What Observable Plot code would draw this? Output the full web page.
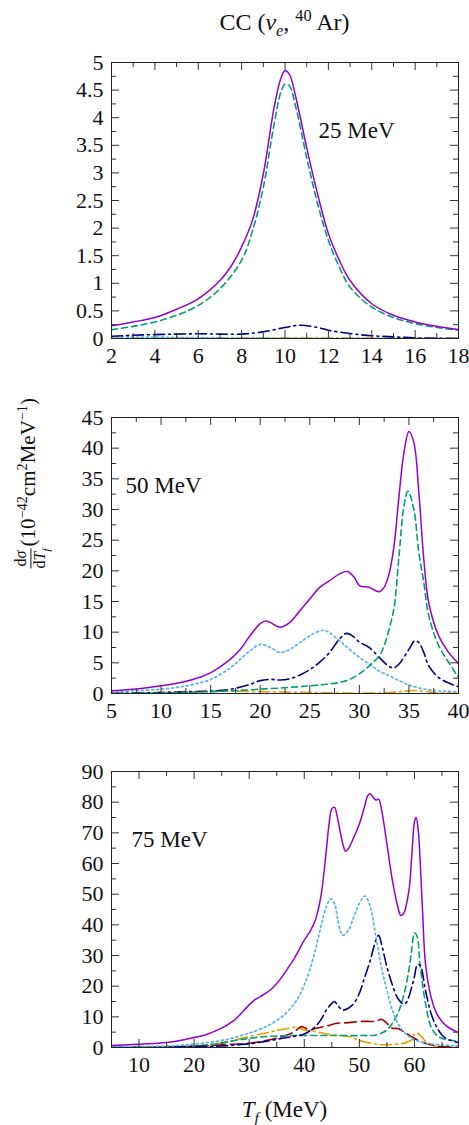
<!DOCTYPE html>
<html>
<head>
<meta charset="utf-8">
<script src="https://cdn.jsdelivr.net/npm/d3@7"></script>
<script src="https://cdn.jsdelivr.net/npm/@observablehq/plot@0.6"></script>
<style>
  body { margin: 0; background: #fff; }
  #fig { position: relative; width: 469px; height: 1125px; font-family: "Liberation Serif", "Times New Roman", serif; color: #111; overflow: hidden; }
  #fig svg { position: absolute; left: 0; }
  .title, .xlab { position: absolute; left: 111px; width: 347px; text-align: center; line-height: 1; white-space: nowrap; }
  .title { top: 10px; font-size: 24px; }
  .xlab { top: 1098px; font-size: 23px; }
  /* rotated y label: its right-top corner is pinned, the text reads upwards */
  .ylab { position: absolute; right: 457px; top: 398px; font-size: 21px; white-space: nowrap; line-height: 1;
          transform-origin: right top; transform: rotate(-90deg); }
  sup, sub { font-size: 0.68em; line-height: 0; }
  .frac { display: inline-flex; flex-direction: column; vertical-align: middle; font-size: 16px; text-align: center; line-height: 1.1; margin-right: 2px; }
  .frac .num { border-bottom: 1px solid #111; padding: 0 1px; }
</style>
</head>
<body>
<div id="fig">
  <div class="title">CC (<i>ν<sub>e</sub></i>, <sup>40</sup> Ar)</div>
  <div class="ylab"><span class="frac"><span class="num">d<i>σ</i></span><span class="den">d<i>T<sub>f</sub></i></span></span>(10<sup>−42</sup>cm<sup>2</sup>MeV<sup>−1</sup>)</div>
  <div class="xlab"><i>T<sub>f</sub></i> (MeV)</div>
</div>
<script>
// Differential cross sections dσ/dT_f (10^-42 cm^2 MeV^-1) versus T_f (MeV)
// for three neutrino energies: the total and its separate contributions c1..c5.

// ---- E_nu = 25 MeV ----
const total_25 = [[2,0.23],[3,0.3],[4,0.38],[5,0.53],[6,0.72],[7,1.05],[7.5,1.3],[8,1.66],[8.5,2.14],[9,2.98],[9.5,4.19],[9.8,4.7],[10,4.85],[10.2,4.79],[10.5,4.37],[11,3.46],[11.5,2.62],[12,1.9],[12.5,1.42],[13,1.05],[14,0.63],[15,0.42],[16,0.3],[17,0.22],[18,0.16]];
const c1_25 = [[2,0.16],[3,0.22],[4,0.3],[5,0.42],[6,0.6],[7,0.9],[8,1.42],[8.5,1.95],[9,2.74],[9.5,3.89],[9.8,4.45],[10,4.61],[10.2,4.58],[10.5,4.19],[11,3.28],[11.5,2.45],[12,1.78],[12.5,1.3],[13,0.93],[14,0.57],[15,0.38],[16,0.27],[17,0.2],[18,0.15]];
const c2_25 = [[2,0.04],[3,0.06],[4,0.07],[5,0.08],[6,0.085],[7,0.08],[8,0.08],[9,0.12],[10,0.2],[10.7,0.24],[11.5,0.2],[12,0.15],[13,0.09],[14,0.05],[15,0.03],[16,0.01],[17,0.005],[18,0]];
const c3_25 = [[2,0.03],[4,0.025],[6,0.015],[8,0.008],[10,0.004],[12,0.002],[18,0]];
const c4_25 = [[2,0.01],[6,0.01],[10,0.008],[14,0.006],[18,0.005]];

// ---- E_nu = 50 MeV ----
const total_50 = [[5,0.43],[8,0.8],[10,1.25],[12,1.8],[14,2.7],[15,3.4],[16,4.4],[17,5.6],[18,7.2],[19,9.5],[20,11.4],[20.5,11.8],[21,11.6],[22,10.8],[23,11.6],[24,13.5],[25,15.4],[26,17.3],[27,18.4],[28,19.5],[28.8,19.9],[29.5,18.9],[30,17.6],[31,17.3],[32,16.6],[32.5,17.3],[33,19.5],[33.5,24.1],[34,32.2],[34.5,39.3],[35,42.7],[35.5,40.9],[36,32.8],[36.5,21.9],[37,14.8],[38,9.4],[39,6.7],[40,4.9]];
const c1_50 = [[5,0],[10,0.1],[15,0.3],[20,0.7],[25,1.25],[28,1.8],[29,2.3],[30,3.2],[31,4.5],[32,6.1],[32.5,7.8],[33,10.5],[33.5,14],[34,22.4],[34.5,30.6],[34.9,33],[35.5,30],[36,23],[36.5,18.1],[37,12.7],[38,7.8],[39,5.1],[40,2.6]];
const c2_50 = [[5,0],[10,0.16],[15,0.4],[17,0.7],[19,1.5],[20,2.1],[21,2.3],[22,2.2],[23,2.4],[24,3.0],[25,3.9],[26,5.1],[27,6.7],[28,8.9],[28.7,9.8],[29.3,9.4],[30,8.4],[31,7.5],[32,5.9],[33,4.4],[33.5,4.2],[34,4.8],[35,7.2],[35.6,8.6],[36,8.3],[36.5,6.7],[37,4.5],[38,2.6],[39,1.7],[40,1.1]];
const c3_50 = [[5,0.3],[10,0.7],[13,1.4],[15,2.3],[17,4.2],[18,5.6],[19,7.0],[20,8.0],[21,7.5],[22,6.7],[23,7.2],[24,8.3],[25,9.4],[26,10.2],[26.5,10.3],[27,9.9],[28,8.6],[29,7.2],[30,5.9],[31,4.8],[32,3.7],[33,2.9],[34,2.1],[35,1.4],[36,0.9],[37,0.6],[38,0.4],[40,0.3]];
const c4_50 = [[5,0],[10,0.2],[15,0.4],[20,0.3],[25,0.15],[30,0.05],[33,0.15],[34,0.27],[35.5,0.5],[37,0.27],[38,0.1],[40,0.05]];

// ---- E_nu = 75 MeV ----
const total_75 = [[5,0.65],[10,1.1],[15,1.6],[20,3.25],[22,4.1],[25,6.3],[27,8.5],[28,10.1],[30,13.9],[31,15.5],[32,16.6],[33,17.7],[34,19.0],[35,20.9],[36,23.1],[37,25.8],[38,28.5],[39,31.7],[40,35],[41,37.7],[42,41.5],[43,49.1],[44,64.3],[44.5,72.9],[45,77.8],[45.5,78.3],[46,75.1],[47,66.4],[47.5,64],[48,64.8],[49,68.6],[50,72.9],[51,78.9],[51.5,82.1],[52,82.7],[52.5,81.6],[53,80.7],[53.5,81],[54,77.8],[55,66.4],[56,54.5],[57,45.8],[57.5,43.1],[58,43.6],[59,51.2],[59.5,62.1],[60,73.5],[60.3,75.1],[60.7,70.7],[61,62.1],[61.5,43.6],[62,27.4],[63,16.6],[64,11.2],[65,8.5],[66,6.8],[67,5.7],[68,4.9]];
const c1_75 = [[5,0],[20,0.5],[25,1.4],[28,2.5],[30,3.0],[33,3.6],[36,3.8],[38,3.9],[40,3.9],[45,3.9],[50,3.9],[53,4.1],[55,5.7],[56,7.9],[57,11.2],[58,16.6],[59,25.3],[59.5,31.7],[60,37.4],[60.5,36.1],[61,27.4],[62,14.4],[63,6.8],[64,4.1],[65,3.0],[68,2.0]];
const c2_75 = [[5,0],[20,0.3],[25,0.5],[28,0.9],[30,1.2],[33,2.0],[36,3.0],[38,3.6],[40,4.4],[42,6.8],[43,9.0],[44,12.2],[45,14.4],[45.5,15.0],[46,13.9],[47,12.2],[48,12.8],[49,14.4],[50,17.7],[51,23.1],[52,28.5],[53,35.0],[53.5,36.6],[54,33.9],[55,26.3],[56,20.4],[57,16.0],[58,14.2],[58.5,14.6],[59,16.6],[60,23.1],[60.5,26.9],[61,26.9],[62,18.7],[63,11.2],[64,6.8],[65,4.1],[66,2.7],[68,1.6]];
const c3_75 = [[5,0.3],[15,0.5],[20,1.1],[25,2.3],[28,3.6],[30,4.7],[32,6.0],[34,7.7],[36,10.1],[38,13.9],[39,16.6],[40,20.4],[41,25.3],[42,31.7],[43,39.3],[44,45.8],[44.8,48.5],[45.5,46.9],[46,42.6],[46.5,38.2],[47,36.6],[48,38.2],[49,42.6],[50,46.9],[51,49.4],[52,45.8],[53,36.1],[54,26.3],[55,18.7],[56,12.2],[57,7.9],[58,5.2],[59,3.6],[60,2.5],[62,1.4],[65,0.9],[68,0.5]];
const c4_75 = [[5,0],[20,0.5],[25,1.6],[28,2.7],[30,3.6],[33,4.7],[35,5.6],[37,6.2],[38,6.6],[39,6.3],[40,5.7],[42,5.2],[45,4.1],[48,3.6],[50,2.3],[52,1.4],[54,0.9],[56,1.0],[58,1.4],[59.5,2.5],[60,4.5],[60.5,4.7],[61,4.1],[62,2.0],[63,0.9],[64,0.3],[68,0]];
const c5_75 = [[5,0],[20,0.3],[25,0.9],[30,1.4],[33,2.3],[36,3.6],[38,4.9],[39,6.3],[39.5,6.8],[40,6.5],[41,5.7],[42,6.2],[44,7.0],[46,7.9],[48,8.1],[50,8.5],[52,8.5],[53,8.5],[54,9.2],[55,7.9],[56,6.3],[57,6.2],[58,5.2],[59,4.1],[60,3.0],[61,2.0],[62,1.4],[63,0.9],[65,0.3],[68,0.1]];

// Line styles of the curves
const styles = {
  total: {stroke: "#9400d3", dash: null, width: 1.5},
  c1: {stroke: "#009e73", dash: "6,4", width: 1.6},
  c2: {stroke: "#00008b", dash: "11,4,2,4", width: 1.6},
  c3: {stroke: "#56b4e9", dash: "2,3", width: 1.7},
  c4: {stroke: "#e69f00", dash: "11,4,2,4", width: 1.6},
  c5: {stroke: "#a00000", dash: "12,5", width: 1.6}
};

const FW = 347, FH = 276;           // frame size in px
const MAJOR = 8, MINOR = 5;         // inward tick lengths
const TICK = "#333";

function steps(lo, hi, step) {
  const out = [];
  for (let v = lo; v <= hi + 1e-9; v += step) out.push(+v.toFixed(6));
  return out;
}

function panel({curves, xDomain, yDomain, xStep, xMinorStep, yStep, yMinorStep, xFirst, tag, tagDx, tagDy, top}) {
  const xMajor = steps(xFirst, xDomain[1], xStep);
  const xMinor = steps(Math.ceil(xDomain[0] / xMinorStep) * xMinorStep, xDomain[1], xMinorStep)
    .filter(v => !xMajor.some(m => Math.abs(m - v) < 1e-9));
  const yMajor = steps(yDomain[0], yDomain[1], yStep);
  const yMinor = steps(yDomain[0], yDomain[1], yMinorStep)
    .filter(v => !yMajor.some(m => Math.abs(m - v) < 1e-9));

  const marks = [];
  for (const [key, data] of curves) {
    const s = styles[key];
    marks.push(Plot.line(data, {
      x: d => d[0], y: d => d[1],
      stroke: s.stroke, strokeWidth: s.width,
      strokeDasharray: s.dash || undefined,
      curve: "catmull-rom", clip: true
    }));
  }
  const ticks = (vals, len) => [
    Plot.tickX(vals, {x: d => d, insetTop: FH - len, stroke: TICK}),
    Plot.tickX(vals, {x: d => d, insetBottom: FH - len, stroke: TICK}),
  ];
  const yticks = (vals, len) => [
    Plot.tickY(vals, {y: d => d, insetRight: FW - len, stroke: TICK}),
    Plot.tickY(vals, {y: d => d, insetLeft: FW - len, stroke: TICK}),
  ];
  marks.push(
    ...ticks(xMinor, MINOR), ...ticks(xMajor, MAJOR),
    ...yticks(yMinor, MINOR), ...yticks(yMajor, MAJOR),
    Plot.frame({stroke: "#222", strokeWidth: 1}),
    Plot.axisX({ticks: xMajor, tickSize: 0, tickPadding: 9, tickFormat: d => String(d), label: null, fill: "#111"}),
    Plot.axisY({ticks: yMajor, tickSize: 0, tickPadding: 8, tickFormat: d => String(d), label: null, fill: "#111"}),
    Plot.text([tag], {frameAnchor: "top-left", dx: tagDx, dy: tagDy, textAnchor: "start", lineAnchor: "top", fill: "#111", fontSize: 23})
  );

  const svg = Plot.plot({
    width: 469, height: 22 + FH + 32,
    marginLeft: 111, marginRight: 11, marginTop: 22, marginBottom: 32,
    x: {domain: xDomain},
    y: {domain: yDomain},
    style: {fontFamily: "'Liberation Serif', 'Times New Roman', serif", fontSize: "22px", background: "transparent", color: "#111", overflow: "visible"},
    marks
  });
  svg.style.top = top + "px";
  document.getElementById("fig").appendChild(svg);
}

panel({
  curves: [["c4", c4_25], ["c3", c3_25], ["c2", c2_25], ["c1", c1_25], ["total", total_25]],
  xDomain: [2, 18], yDomain: [0, 5], xFirst: 2, xStep: 2, xMinorStep: 1, yStep: 0.5, yMinorStep: 0.25,
  tag: "25 MeV", tagDx: 207, tagDy: 59, top: 40
});
panel({
  curves: [["c4", c4_50], ["c3", c3_50], ["c2", c2_50], ["c1", c1_50], ["total", total_50]],
  xDomain: [5, 40], yDomain: [0, 45], xFirst: 5, xStep: 5, xMinorStep: 2.5, yStep: 5, yMinorStep: 2.5,
  tag: "50 MeV", tagDx: 14, tagDy: 59, top: 395
});
panel({
  curves: [["c4", c4_75], ["c5", c5_75], ["c1", c1_75], ["c2", c2_75], ["c3", c3_75], ["total", total_75]],
  xDomain: [5, 68], yDomain: [0, 90], xFirst: 10, xStep: 10, xMinorStep: 5, yStep: 10, yMinorStep: 5,
  tag: "75 MeV", tagDx: 20, tagDy: 59, top: 749
});
</script>
</body>
</html>
